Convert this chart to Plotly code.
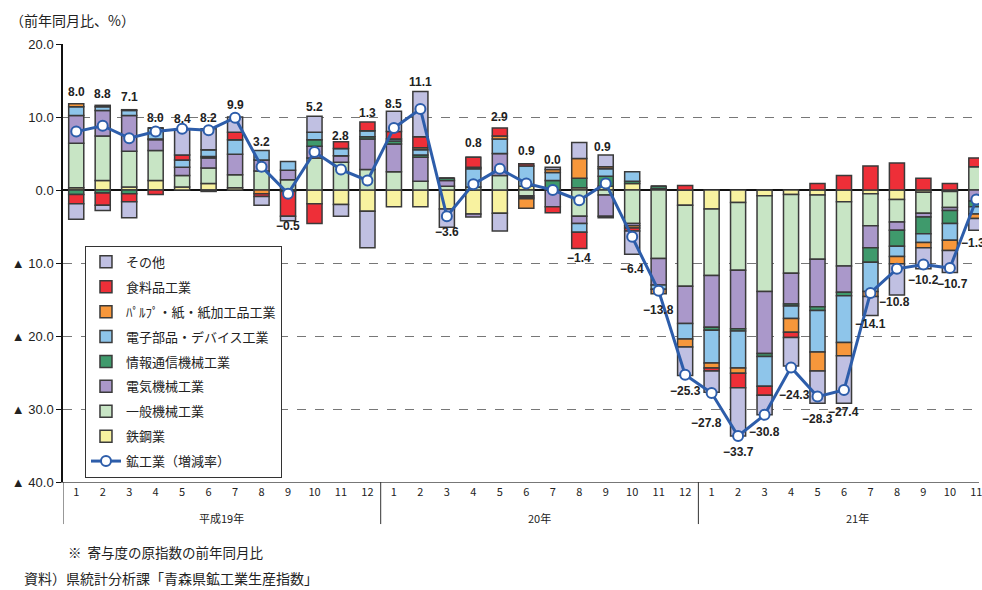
import plotly.graph_objects as go

# ---------------- data ----------------
months = [1, 2, 3, 4, 5, 6, 7, 8, 9, 10, 11, 12,
          1, 2, 3, 4, 5, 6, 7, 8, 9, 10, 11, 12,
          1, 2, 3, 4, 5, 6, 7, 8, 9, 10, 11]
years = ["平成19年", "20年", "21年"]
year_counts = [12, 12, 11]

steel =    [0.3, 1.3, 0.4, 1.3, 0.4, 0.9, 0.3, 0.0, 0.0, -1.9, -2.0, -2.9,
            -2.3, -2.3, -2.6, -3.3, -3.2, 0.5, 0.0, 0.3, 0.5, 0.9, 0.2, -2.1,
            -2.6, -1.7, -0.8, -0.6, -0.7, -1.6, -0.5, -1.3, -0.3, -0.2, 0.0]
general =  [6.1, 6.1, 4.9, 4.1, 1.6, 2.1, 1.8, 2.6, 1.4, 4.4, 3.8, 2.8,
            2.5, 1.2, 0.5, 0.4, 2.0, -0.8, 0.0, -3.6, -0.7, -4.6, -9.4, -11.1,
            -9.1, -9.3, -13.1, -10.8, -8.8, -8.8, -4.4, -3.1, -2.9, -2.2, 3.2]
electric = [3.8, 3.5, 4.9, 1.5, 1.1, 1.4, 2.8, 1.5, 1.3, 1.6, 0.9, 4.2,
            3.8, 3.3, 0.8, -0.4, 3.0, -0.2, -2.3, -1.0, -2.9, -0.3, -3.6, -5.1,
            -7.1, -8.0, -8.5, -4.2, -6.5, -3.6, -3.0, -1.1, -0.5, -0.4, -1.5]
info =     [-0.6, -0.4, -0.5, 0.1, 0.0, 0.2, 0.0, 0.0, 0.0, 0.9, 0.0, 0.3,
            0.4, 0.3, 0.3, 0.0, 0.0, -0.2, 1.3, 1.3, 1.4, 0.3, 0.3, 0.0,
            -0.4, -0.3, -0.4, -0.3, -0.5, -0.5, -2.0, -2.2, -2.3, -1.8, -0.8]
device =   [1.2, 0.5, 0.7, 1.5, 1.0, 0.9, 2.0, 1.3, 1.2, 1.0, 1.0, 0.8,
            0.3, 0.7, 0.0, 2.5, 2.0, 2.8, 1.1, -1.2, 1.0, 1.3, -0.6, -2.1,
            -4.5, -5.1, -4.1, -1.7, -5.7, -6.4, -4.0, -1.4, -1.2, -2.3, -1.0]
pulp =     [0.4, 0.2, 0.1, 0.0, 0.0, 0.0, 0.0, -0.5, -0.2, 0.0, 0.0, 0.0,
            0.0, 0.3, 0.0, 0.2, 0.4, -1.3, 0.4, 2.7, 0.3, -0.3, -0.6, -1.1,
            -0.7, -0.7, 0.0, -1.9, -2.6, -1.8, -0.7, -1.0, -0.7, -1.4, -0.6]
food =     [-1.3, -1.7, -1.1, -0.6, 0.7, -0.2, 1.0, -0.4, -3.4, -2.7, 0.9, 1.2,
            1.0, 1.5, 0.0, 1.4, 1.1, 0.3, -0.8, -2.2, -0.2, -0.4, 0.0, 0.6,
            -0.4, -2.0, -1.2, -0.7, 0.9, 2.0, 3.3, 3.7, 1.6, 0.9, 1.2]
other =    [-2.1, -0.7, -2.2, 0.0, 3.5, 2.9, 2.1, -1.2, -0.6, 2.2, -1.6, -5.0,
            2.8, 6.2, -2.5, 0.0, -2.4, 0.0, 0.3, 2.2, 1.6, -3.2, 0.0, -3.9,
            -2.9, -6.6, -2.7, -3.9, -4.4, -6.5, -2.6, -4.3, -2.9, -3.0, -1.6]
total =    [8.0, 8.8, 7.1, 8.0, 8.4, 8.2, 9.9, 3.2, -0.5, 5.2, 2.8, 1.3,
            8.5, 11.1, -3.6, 0.8, 2.9, 0.9, 0.0, -1.4, 0.9, -6.4, -13.8, -25.3,
            -27.8, -33.7, -30.8, -24.3, -28.3, -27.4, -14.1, -10.8, -10.2, -10.7, -1.3]

y_tickvals = [20, 10, 0, -10, -20, -30, -40]
y_ticktext = ["20.0", "10.0", "0.0", "▲ 10.0", "▲ 20.0", "▲ 30.0", "▲ 40.0"]

# ---------------- style ----------------
series = [
    ("鉄鋼業", steel, "#F8F2A0", 8),
    ("一般機械工業", general, "#C8E5C5", 7),
    ("電気機械工業", electric, "#AA98CA", 6),
    ("情報通信機械工業", info, "#3F9A6C", 5),
    ("電子部品・デバイス工業", device, "#8EC5EA", 4),
    ("ﾊﾟﾙﾌﾟ・紙・紙加工品工業", pulp, "#F7973B", 3),
    ("食料品工業", food, "#EE2F38", 2),
    ("その他", other, "#C0C0E2", 1),
]
line_color = "#2D5DAA"
jp_font = "Noto Sans CJK JP"
num_font = "Liberation Sans, Arial, DejaVu Sans"

# label offsets (pixels, dx right, dy down) relative to each line point
label_off = [(0, -40), (0, -32), (0, -41), (0, -14), (0, -10), (0, -12), (0, -13), (0, -25),
             (0, 32), (0, -45), (0, -34), (0, -68), (0, -24), (0, -27), (0, 16), (0, -41),
             (0, -52), (0, -32), (0, -30), (0, 58), (-3, -36), (0, 32), (0, 19), (0, 16),
             (-5, 30), (0, 16), (0, 17), (3, 28), (0, 22), (0, 22), (0, 31), (-2, 33),
             (0, 16), (3, 16), (-3, 44)]

x = list(range(len(months)))

fig = go.Figure()
for name, vals, color, rank in series:
    fig.add_trace(go.Bar(
        x=x, y=vals, name=name, legendrank=rank, legendgroup=name,
        marker=dict(color=color, line=dict(color="#3a3a3a", width=1.5)),
    ))

fig.add_trace(go.Scatter(
    x=x, y=total, name="鉱工業（増減率）", legendrank=9, legendgroup="total",
    mode="lines+markers",
    line=dict(color=line_color, width=3),
    marker=dict(size=10, color="white", line=dict(color=line_color, width=2)),
))

def fmt(v):
    s = f"{abs(v):.1f}"
    return ("−" + s) if v < 0 else s

annotations = []
for i, v in enumerate(total):
    dx, dy = label_off[i]
    annotations.append(dict(
        x=i, y=v, xref="x", yref="y", text=fmt(v), showarrow=False,
        xshift=dx, yshift=-dy,
        font=dict(family=num_font, size=12, color="#222", weight="bold"),
    ))

# year labels and separators
start = 0
shapes = []
for yname, cnt in zip(years, year_counts):
    center = start + 5.5
    annotations.append(dict(
        x=center, y=-0.082, xref="x", yref="paper", text=yname, showarrow=False,
        font=dict(family=jp_font, size=11, color="#222"), yanchor="middle",
    ))
    shapes.append(dict(type="line", xref="x", yref="paper",
                       x0=start - 0.5, x1=start - 0.5, y0=0, y1=-0.096,
                       line=dict(color="#333", width=1)))
    start += cnt

annotations += [
    dict(x=-0.0598, y=1.055, xref="paper", yref="paper", text="（前年同月比、%）",
         showarrow=False, xanchor="left", yanchor="middle",
         font=dict(family=jp_font, size=14, color="#222")),
    dict(x=0.003, y=-0.16, xref="paper", yref="paper", text="※  寄与度の原指数の前年同月比",
         showarrow=False, xanchor="left", yanchor="middle",
         font=dict(family=jp_font, size=13.5, color="#222")),
    dict(x=-0.0446, y=-0.22, xref="paper", yref="paper", text="資料）県統計分析課「青森県鉱工業生産指数」",
         showarrow=False, xanchor="left", yanchor="middle",
         font=dict(family=jp_font, size=14, color="#222")),
]

fig.update_layout(
    width=982, height=590,
    margin=dict(l=63, r=0, t=44, b=108),
    barmode="relative", bargap=0.43,
    plot_bgcolor="white", paper_bgcolor="white",
    showlegend=True,
    legend=dict(x=0.024, y=0.539, xanchor="left", yanchor="top",
                bordercolor="#333", borderwidth=1, bgcolor="white",
                font=dict(family=jp_font, size=13, color="#222"),
                tracegroupgap=5, traceorder="grouped"),
    annotations=annotations,
    shapes=shapes,
)
fig.update_xaxes(
    range=[-0.5, 34.1], tickvals=x, ticktext=[str(m) for m in months],
    tickfont=dict(family=jp_font, size=11, color="#222"),
    ticklabeloverflow="allow",
    showgrid=False, showline=True, linecolor="#777", linewidth=1, ticks="",
    zeroline=False,
)
fig.update_yaxes(
    range=[-40, 20], tickvals=y_tickvals, ticktext=y_ticktext,
    tickfont=dict(family=num_font, size=13, color="#222"),
    showgrid=True, gridcolor="#777", griddash="dash", gridwidth=1,
    zeroline=True, zerolinecolor="#111", zerolinewidth=1.5,
    showline=True, linecolor="#111", linewidth=1.5,
    ticks="outside", ticklen=5, tickcolor="#111",
)

fig.write_html("out.html")
